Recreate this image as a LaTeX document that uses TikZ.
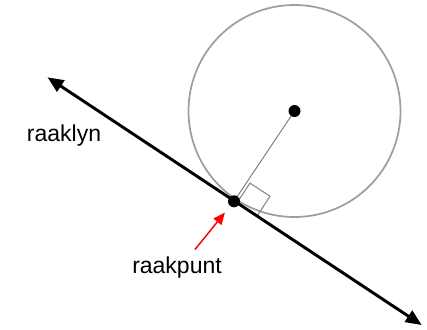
\documentclass[tikz,border=0pt]{standalone}
\usepackage{fontspec}
\setmainfont{Liberation Sans}
\usetikzlibrary{arrows.meta,calc}

\begin{document}
\begin{tikzpicture}[
  x=0.75pt, y=-0.75pt,
  dot/.style={circle, fill=black, inner sep=0pt, minimum size=9pt},
  word/.style={font=\fontsize{17.25}{20}\selectfont, inner sep=0pt, anchor=base},
  tangent/.style={{Triangle[length=12pt,width=10pt]}-{Triangle[length=12pt,width=10pt]}, line width=2.2pt},
  pointer/.style={-{Triangle[length=9pt,width=7.5pt]}, red, line width=1.1pt},
  guide/.style={draw=black!50, line width=0.75pt}
]
\useasboundingbox (0,0) rectangle (427,329);
\coordinate (O) at (294.5,111);
\coordinate (T) at (234,201.3);
\coordinate (A) at (47.5,77.3);
\coordinate (B) at (421.7,325);
\coordinate (tail) at (195,249.5);

% circle and radius
\draw[black!38, line width=1.3pt] (O) circle[radius=106];
\draw[guide] (O) -- (T);

% right angle mark
\coordinate (s1) at ($(T)!2.5pt!(B)$);
\coordinate (s2) at ($(s1)!18pt!90:(B)$);
\coordinate (s4) at ($(s1)!18pt!(B)$);
\coordinate (s3) at ($(s2)+(s4)-(s1)$);
\draw[guide] (s1) -- (s2) -- (s3) -- (s4);

% tangent line
\draw[tangent] (A) -- (B);

\node[dot] (middel) at (O) {};
\node[dot] (punt) at (T) {};

\node[word] (raaklyn) at (64,141) {raaklyn};
\node[word] (raakpunt) at (177,273.3) {raakpunt};
\draw[pointer, shorten >=10.8pt] (tail) -- (punt.center);
\end{tikzpicture}
\end{document}
